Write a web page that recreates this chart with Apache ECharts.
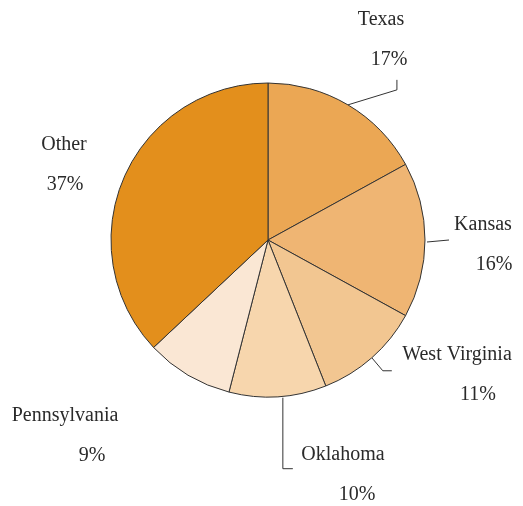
<!DOCTYPE html>
<html>
<head>
<meta charset="utf-8">
<script src="https://cdn.jsdelivr.net/npm/echarts@6/dist/echarts.min.js"></script>
<style>
  html, body { margin: 0; padding: 0; background: #fff; }
  #chart { width: 523px; height: 506px; }
</style>
</head>
<body>
<div id="chart"></div>
<script>
const categories = ['Texas', 'Kansas', 'West Virginia', 'Oklahoma', 'Pennsylvania', 'Other']
const shares = [17, 16, 11, 10, 9, 37]
const sliceColors = ['#EBA754', '#EFB573', '#F2C691', '#F7D6AD', '#FAE7D4', '#E38F1C']

// where each label sits: [center x, middle y, percent line shift]
const labelSpots = {
  'Texas': [381, 40, 8],
  'Kansas': [483, 245, 11],
  'West Virginia': [457, 375, 21],
  'Oklahoma': [343, 475, 14],
  'Pennsylvania': [65, 436, 27],
  'Other': [64, 165, 1]
}

// leader line shapes, built from the point on the pie edge
const leaders = {
  'Texas': (p) => [p, [p[0] + 49, p[1] - 15], [p[0] + 49, p[1] - 25]],
  'Kansas': (p) => [[p[0] + 2, p[1] + 2], [p[0] + 24, p[1]]],
  'West Virginia': (p) => [p, [p[0] + 11, p[1] + 13], [p[0] + 20, p[1] + 13]],
  'Oklahoma': (p) => [[p[0] + 5, p[1] + 1], [p[0] + 5, p[1] + 72], [p[0] + 15, p[1] + 72]]
}

const font = 'Liberation Serif'

const data = categories.map((name, i) => {
  const shift = labelSpots[name][2]
  return {
    name: name,
    value: shares[i],
    itemStyle: { color: sliceColors[i] },
    labelLine: { show: !!leaders[name] },
    label: {
      rich: {
        n: { fontFamily: font, fontSize: 20, color: '#2a2a2a', lineHeight: 40 },
        p: { fontFamily: font, fontSize: 20, color: '#2a2a2a', lineHeight: 40, padding: [0, 0, 0, shift * 2] }
      }
    }
  }
})

const myChart = echarts.init(document.getElementById('chart'))
const option = {
  animation: false,
  series: [
    {
      type: 'pie',
      center: [268, 240],
      radius: 157,
      startAngle: 90,
      clockwise: true,
      data: data,
      itemStyle: {
        borderColor: '#333',
        borderWidth: 1
      },
      label: {
        show: true,
        position: 'outside',
        align: 'center',
        formatter: (p) => '{n|' + p.name + '}\n{p|' + p.value + '%}'
      },
      labelLine: {
        show: true,
        length: 10,
        length2: 10,
        smooth: false,
        lineStyle: { color: '#333', width: 1 }
      },
      labelLayout: (params) => {
        const name = categories[params.dataIndex]
        const spot = labelSpots[name]
        const out = {
          x: spot[0],
          y: spot[1],
          align: 'center',
          verticalAlign: 'middle'
        }
        if (leaders[name] && params.labelLinePoints) {
          out.labelLinePoints = leaders[name](params.labelLinePoints[0])
        }
        return out
      },
      emphasis: { disabled: true }
    }
  ]
}
myChart.setOption(option)
</script>
</body>
</html>
